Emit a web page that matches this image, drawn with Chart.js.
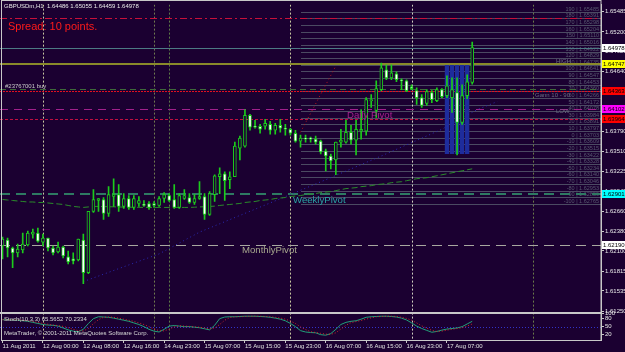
<!DOCTYPE html>
<html><head><meta charset="utf-8">
<script src="https://cdn.jsdelivr.net/npm/chart.js@4.4.0/dist/chart.umd.min.js"></script>
<style>
html,body{margin:0;padding:0;background:#1b0031;overflow:hidden}
canvas{display:block}
</style></head>
<body>
<canvas id="c" width="625" height="352"></canvas>
<script>
// ---------- data ----------
const symbolTitle = 'GBPUSDm,H1';
const timeLabels = ['11 Aug 2011','12 Aug 00:00','12 Aug 08:00','12 Aug 16:00','14 Aug 23:00','15 Aug 07:00','15 Aug 15:00','15 Aug 23:00','16 Aug 07:00','16 Aug 15:00','16 Aug 23:00','17 Aug 07:00'];
const opens = [1.62170,1.62254,1.62142,1.62072,1.62114,1.62184,1.62338,1.62352,1.62226,1.62282,1.62142,1.62086,1.62156,1.62016,1.61988,1.61974,1.62254,1.61792,1.62660,1.62814,1.62828,1.62632,1.62870,1.62898,1.62730,1.62842,1.62716,1.62772,1.62758,1.62772,1.62772,1.62744,1.62842,1.62884,1.62828,1.62716,1.62842,1.62856,1.62786,1.62842,1.62870,1.62618,1.62898,1.63150,1.63192,1.63108,1.63150,1.63556,1.63584,1.64018,1.63864,1.63864,1.63864,1.63892,1.63808,1.63878,1.63836,1.63822,1.63766,1.63654,1.63696,1.63696,1.63682,1.63654,1.63514,1.63444,1.63388,1.63640,1.63640,1.63780,1.63668,1.63794,1.63794,1.64228,1.64088,1.64382,1.64662,1.64550,1.64606,1.64522,1.64508,1.64424,1.64368,1.64270,1.64186,1.64340,1.64228,1.64382,1.64298,1.64270,1.64340,1.63920,1.64298,1.64486];
const highs = [1.62296,1.62282,1.62156,1.62198,1.62352,1.62380,1.62408,1.62422,1.62338,1.62282,1.62170,1.62226,1.62170,1.62100,1.62072,1.62268,1.62338,1.62660,1.62968,1.62842,1.62856,1.63010,1.63122,1.63038,1.62912,1.62884,1.62884,1.62870,1.62814,1.62800,1.62800,1.62870,1.62926,1.62912,1.63038,1.62912,1.62968,1.62912,1.62898,1.63080,1.62912,1.62940,1.63178,1.63276,1.63220,1.63220,1.63640,1.63724,1.64102,1.64032,1.63948,1.63892,1.63962,1.63934,1.63906,1.63962,1.63892,1.63836,1.63808,1.63738,1.63738,1.63710,1.63724,1.63668,1.63542,1.63472,1.63640,1.63822,1.63948,1.63878,1.63948,1.64102,1.64270,1.64312,1.64508,1.64760,1.64732,1.64732,1.64634,1.64536,1.64522,1.64452,1.64410,1.64312,1.64382,1.64368,1.64410,1.64396,1.64578,1.64550,1.64550,1.64452,1.64592,1.65055];
const lows = [1.61988,1.62016,1.61862,1.62016,1.62072,1.62170,1.62282,1.62226,1.62170,1.62100,1.62044,1.62072,1.62002,1.61918,1.61918,1.61960,1.61638,1.61778,1.62646,1.62660,1.62548,1.62590,1.62730,1.62660,1.62702,1.62688,1.62688,1.62730,1.62730,1.62688,1.62716,1.62730,1.62786,1.62800,1.62702,1.62702,1.62828,1.62772,1.62758,1.62828,1.62548,1.62604,1.62800,1.62912,1.62814,1.62982,1.63150,1.63388,1.63570,1.63808,1.63836,1.63766,1.63822,1.63752,1.63752,1.63780,1.63738,1.63738,1.63640,1.63570,1.63640,1.63640,1.63612,1.63472,1.63234,1.63262,1.63178,1.63570,1.63626,1.63612,1.63458,1.63682,1.63738,1.64130,1.63990,1.64368,1.64522,1.64522,1.64494,1.64382,1.64354,1.64382,1.64172,1.64130,1.64158,1.64200,1.64214,1.64270,1.64270,1.64060,1.63458,1.63892,1.64256,1.64459];
const closes = [1.62268,1.62142,1.62072,1.62128,1.62198,1.62352,1.62366,1.62240,1.62282,1.62142,1.62072,1.62156,1.62030,1.61946,1.61960,1.62268,1.61792,1.62660,1.62828,1.62842,1.62632,1.62898,1.62898,1.62730,1.62842,1.62716,1.62842,1.62814,1.62744,1.62716,1.62744,1.62842,1.62898,1.62814,1.62716,1.62884,1.62884,1.62786,1.62842,1.62870,1.62618,1.62912,1.63164,1.63192,1.63094,1.63150,1.63584,1.63696,1.64018,1.63850,1.63850,1.63822,1.63906,1.63808,1.63878,1.63836,1.63822,1.63766,1.63654,1.63696,1.63682,1.63682,1.63640,1.63500,1.63444,1.63374,1.63640,1.63668,1.63780,1.63668,1.63822,1.63822,1.64242,1.64242,1.64396,1.64690,1.64550,1.64620,1.64522,1.64508,1.64368,1.64396,1.64270,1.64158,1.64354,1.64242,1.64382,1.64284,1.64438,1.64382,1.63920,1.64298,1.64494,1.64978];
const maGreen = [1.62828,1.62821,1.62814,1.62807,1.62800,1.62793,1.62793,1.62786,1.62786,1.62779,1.62772,1.62765,1.62758,1.62744,1.62730,1.62723,1.62716,1.62723,1.62730,1.62730,1.62728,1.62726,1.62724,1.62722,1.62720,1.62719,1.62718,1.62717,1.62716,1.62716,1.62716,1.62716,1.62716,1.62716,1.62716,1.62716,1.62716,1.62716,1.62719,1.62723,1.62726,1.62730,1.62734,1.62744,1.62751,1.62758,1.62765,1.62772,1.62786,1.62793,1.62800,1.62814,1.62821,1.62828,1.62842,1.62849,1.62856,1.62870,1.62877,1.62884,1.62898,1.62905,1.62912,1.62926,1.62933,1.62940,1.62954,1.62968,1.62982,1.62989,1.62996,1.63010,1.63017,1.63024,1.63038,1.63045,1.63052,1.63066,1.63073,1.63080,1.63094,1.63108,1.63122,1.63129,1.63136,1.63150,1.63164,1.63178,1.63192,1.63206,1.63220,1.63234,1.63248,1.63262];
const blueLineBars = [16,24,31,39,48,57,64,75,87,94,98];
const blueLinePrices = [1.61666,1.61876,1.62058,1.62366,1.62632,1.62898,1.63108,1.63444,1.63822,1.64102,1.64214];
const redTrendBars = [59,66];
const redTrendPrices = [1.63780,1.64718];
const boxBars = [88,89,90,91,92];
const boxLow = 1.63472, boxHigh = 1.64732;
const stochMain = [76,76,75,74,72,70,66,62,58,56,55,52,45,38,33,31,40,62,80,87,86,85,82,78,74,70,64,58,50,40,33,30,40,52,54,52,50,50,48,46,42,38,55,80,86,87,87,88,89,89,89,88,87,85,82,78,72,62,50,35,30,28,27,20,18,24,40,58,66,70,72,78,85,87,88,89,89,88,86,82,75,64,52,43,36,29,32,37,41,43,45,50,60,70];
const stochSignal = [76,76,76,75,74,72,69,66,62,59,56,54,51,46,40,35,34,43,61,76,85,86,85,82,78,74,70,64,58,50,41,35,34,41,49,53,52,51,49,48,45,42,45,58,74,84,87,87,88,89,89,89,88,87,85,82,78,71,62,49,39,31,28,25,22,21,27,41,55,65,69,73,78,83,87,88,89,89,88,85,81,74,64,53,44,36,32,33,37,40,43,46,52,60];
const priceTicks = [1.65485,1.65200,1.64920,1.64640,1.64355,1.64070,1.63790,1.63510,1.63225,1.62945,1.62660,1.62380,1.62100,1.61815,1.61535,1.61250];
const stochTicks = [100,80,50,20];
const currentPrice = 1.64978, targetLevel = 1.65390, oliveLevel = 1.64747, orderLevel = 1.64363, orderGreen = 1.64385, dailyPivot = 1.64102, lowRedLevel = 1.63964, weeklyPivot = 1.62901, monthlyPivot = 1.62190;
const fiboStartBar = 59;
const fiboNames = ['190','180','170','160','150','140','130','120','110','100','90','80','70','60','50','40','30','20','10','0','-10','-20','-30','-40','-50','-60','-70','-80','-90','-100'];
const fiboLevels = [1.65485,1.65391,1.65298,1.65204,1.65110,1.65016,1.64922,1.64829,1.64735,1.64641,1.64547,1.64453,1.64360,1.64266,1.64172,1.64078,1.63984,1.63891,1.63797,1.63703,1.63609,1.63515,1.63422,1.63328,1.63234,1.63140,1.63046,1.62953,1.62859,1.62765];
const separatorBars = [8,30,33,57,81,105];
const stochText = 'Stoch(10,3,3) 65.5652 70.2334';

// ---------- setup ----------
const SLOTS = 119;
const slotLabels = Array.from({length: SLOTS}, (_, i) => (i % 8 === 0 && timeLabels[i/8]) ? timeLabels[i/8] : '');
const BG = '#1b0031';
const GREEN = '#1ccc1c';
const FONT = 'Liberation Sans';

const blueData = Array(SLOTS).fill(null); blueLineBars.forEach((b,j)=> blueData[b] = blueLinePrices[j]);
const redData = Array(SLOTS).fill(null); redTrendBars.forEach((b,j)=> redData[b] = redTrendPrices[j]);
const boxData = Array(SLOTS).fill(null); boxBars.forEach(b => boxData[b] = [boxLow, boxHigh]);

const mt4 = {
  id: 'mt4',
  beforeDraw(chart){ const c = chart.ctx; c.save(); c.fillStyle = BG; c.fillRect(0,0,chart.width,chart.height); c.restore(); },
  beforeDatasetsDraw(chart){
    const {ctx, chartArea: a, scales: {x, y, ys}} = chart;
    ctx.save();
    ctx.beginPath(); ctx.rect(a.left, a.top, a.right - a.left, a.bottom - a.top); ctx.clip();
    const H = (p, color, dash, w, x0) => {
      const py = Math.round(y.getPixelForValue(p)) + (w % 2 ? 0.5 : 0);
      ctx.strokeStyle = color; ctx.lineWidth = w; ctx.setLineDash(dash);
      ctx.beginPath(); ctx.moveTo(x0 === undefined ? a.left : x0, py); ctx.lineTo(a.right, py); ctx.stroke();
    };
    // gann / fibo grid with labels
    const fx0 = Math.round(x.getPixelForValue(fiboStartBar));
    ctx.font = `5.5px "${FONT}"`; ctx.textAlign = 'right'; ctx.textBaseline = 'bottom';
    fiboLevels.forEach((p, k) => {
      H(p, '#4b4a62', [], 1, fx0);
      ctx.fillStyle = '#585870';
      ctx.fillText(`${fiboNames[k]} | ${p.toFixed(5)}`, a.right - 2, Math.round(y.getPixelForValue(p)));
    });
    // stoch 50 level
    const p50 = Math.round(ys.getPixelForValue(50)) + 0.5;
    ctx.strokeStyle = '#3232c8'; ctx.lineWidth = 1; ctx.setLineDash([1,2]);
    ctx.beginPath(); ctx.moveTo(a.left, p50); ctx.lineTo(a.right, p50); ctx.stroke();
    // vertical separators
    const sepColors = ['#c8c8a0','#707a50','#5e7a46','#c8c8a0','#d0d0c0','#6a7a4a'];
    separatorBars.forEach((b, k) => {
      const px = Math.round(x.getPixelForValue(b)) + 0.5;
      ctx.strokeStyle = sepColors[k]; ctx.lineWidth = 1; ctx.setLineDash([2,2]);
      ctx.beginPath(); ctx.moveTo(px, a.top); ctx.lineTo(px, a.bottom); ctx.stroke();
    });
    // horizontal levels
    H(targetLevel, '#c8103a', [7,3,2,3], 1);
    H(currentPrice, '#4d7a84', [], 1);
    H(oliveLevel, '#8a8a2a', [], 2);
    H(orderGreen, '#3f6a3a', [6,4], 1);
    H(orderLevel, '#e01020', [2,1], 1);
    H(dailyPivot, '#a0208c', [8,6], 1);
    H(lowRedLevel, '#c01040', [3,2], 1);
    H(weeklyPivot, '#2e7a62', [10,6], 2);
    H(monthlyPivot, '#a8a8a0', [10,6], 1);
    ctx.restore();
  },
  afterDraw(chart){
    const {ctx, chartArea: a, scales: {x, y, ys}} = chart;
    ctx.save();
    // frame and sub-window separator
    ctx.strokeStyle = '#c8c8c8'; ctx.lineWidth = 1; ctx.setLineDash([]);
    ctx.strokeRect(1.5, 0.5, a.right - 1.5, a.bottom);
    ctx.fillStyle = '#c8c8c8';
    ctx.fillRect(a.left, Math.round(ys.top) - 1, a.right - a.left, 2);
    // labels in chart
    ctx.textBaseline = 'middle'; ctx.textAlign = 'left';
    const n = closes.length - 1;
    ctx.font = `6px "${FONT}"`; ctx.fillStyle = '#e8e8e8';
    ctx.fillText(`${symbolTitle}  ${opens[n].toFixed(5)} ${highs[n].toFixed(5)} ${lows[n].toFixed(5)} ${closes[n].toFixed(5)}`, 4, 6);
    ctx.font = `11px "${FONT}"`; ctx.fillStyle = '#ff1a1a';
    ctx.fillText('Spread: 10 points.', 8, 27);
    ctx.font = `6px "${FONT}"`; ctx.fillStyle = '#c8c8c8';
    ctx.fillText('#23767001 buy', 5, y.getPixelForValue(orderLevel) - 5);
    ctx.font = `9.6px "${FONT}"`;
    ctx.fillStyle = '#a8208e'; ctx.fillText('Daily Pivot', 347, y.getPixelForValue(dailyPivot) + 6);
    ctx.fillStyle = '#2aa4a4'; ctx.fillText('WeeklyPivot', 293, y.getPixelForValue(weeklyPivot) + 6);
    ctx.fillStyle = '#a8a88e'; ctx.fillText('MonthlyPivot', 242, y.getPixelForValue(monthlyPivot) + 6);
    ctx.font = `6px "${FONT}"`; ctx.fillStyle = '#6a6a80';
    ctx.fillText('HIGH', 556, y.getPixelForValue(highs[75]) - 2);
    ctx.fillText('Gann 10 - 90', 535, y.getPixelForValue(orderLevel) + 4);
    ctx.fillText('LOW', 556, y.getPixelForValue(lowRedLevel) - 8);
    // stoch texts
    ctx.fillStyle = '#d8d8d8';
    ctx.fillText(stochText, 4, ys.getPixelForValue(78));
    ctx.fillText('MetaTrader, \u00a9 2001-2011 MetaQuotes Software Corp.', 4, ys.getPixelForValue(24));
    // right axis price boxes
    const boxes = [[currentPrice,'#ffffff'],[oliveLevel,'#ffff00'],[orderLevel,'#ff0000'],[dailyPivot,'#ff00ff'],[lowRedLevel,'#ff0000'],[weeklyPivot,'#00ffff'],[monthlyPivot,'#ffffff']];
    boxes.forEach(([p, col]) => {
      const py = Math.round(y.getPixelForValue(p));
      ctx.fillStyle = col; ctx.fillRect(a.right + 1, py - 4, 24, 8);
      ctx.fillStyle = '#000000'; ctx.fillText(p.toFixed(5), a.right + 2, py);
    });
    ctx.restore();
  }
};

new Chart(document.getElementById('c'), {
  type: 'bar',
  data: {
    labels: slotLabels,
    datasets: [
      { type:'bar', label:'body', data: opens.map((o,i)=>[o, closes[i]]), yAxisID:'y', grouped:false, barThickness:3,
        backgroundColor: opens.map((o,i)=> closes[i] >= o ? BG : '#ffffff'), borderColor: GREEN, borderWidth:1, borderSkipped:false, order:0 },
      { type:'bar', label:'wick', data: lows.map((l,i)=>[l, highs[i]]), yAxisID:'y', grouped:false, barThickness:1,
        backgroundColor: GREEN, order:1 },
      { type:'line', label:'ma', data: maGreen, yAxisID:'y', borderColor:'#2a8c2a', borderWidth:1, borderDash:[6,3], pointRadius:0, order:3 },
      { type:'line', label:'trendBlue', data: blueData, yAxisID:'y', spanGaps:true, borderColor:'#2a2ab4', borderWidth:1, borderDash:[1,3], pointRadius:0, order:3 },
      { type:'line', label:'trendRed', data: redData, yAxisID:'y', spanGaps:true, borderColor:'#c01818', borderWidth:1, borderDash:[1,3], pointRadius:0, order:3 },
      { type:'bar', label:'box', data: boxData, yAxisID:'y', grouped:false, barPercentage:0.85, categoryPercentage:1,
        backgroundColor:'#1e2c9c', order:8 },
      { type:'line', label:'stoch', data: stochMain, yAxisID:'ys', borderColor:'#22a07a', borderWidth:1, pointRadius:0, order:2 },
      { type:'line', label:'signal', data: stochSignal, yAxisID:'ys', borderColor:'#d02828', borderWidth:1, borderDash:[1,2], pointRadius:0, order:1 }
    ]
  },
  options: {
    responsive:false, animation:false, events:[], devicePixelRatio:1,
    layout:{ padding:{ top:1, left:0, right:0, bottom:0 } },
    plugins:{ legend:{display:false}, tooltip:{enabled:false} },
    scales:{
      x:{ type:'category', offset:true,
        grid:{ display:true, drawOnChartArea:false, drawTicks:true, tickLength:3, offset:false,
               color:(c)=> slotLabels[c.index] ? '#c8c8c8' : 'rgba(0,0,0,0)' },
        border:{ display:false },
        ticks:{ autoSkip:false, maxRotation:0, align:'start', padding:0, color:'#e0e0e0', font:{ family:FONT, size:6 },
                callback:(v,i)=> slotLabels[i] },
        afterFit:(s)=>{ s.height = 12; } },
      y:{ type:'linear', position:'right', stack:'v', stackWeight:312, min:1.61218, max:1.65586,
        afterBuildTicks:(s)=>{ s.ticks = priceTicks.map(v=>({value:v})); },
        grid:{ drawOnChartArea:false, drawTicks:true, tickLength:3, color:'#c8c8c8' },
        border:{ display:true, color:'#c8c8c8' },
        ticks:{ autoSkip:false, padding:1, color:'#e8e8e8', font:{ family:FONT, size:6 }, callback:(v)=> v.toFixed(5) },
        afterFit:(s)=>{ s.width = 24; } },
      ys:{ type:'linear', position:'right', stack:'v', stackWeight:27, min:0, max:100,
        afterBuildTicks:(s)=>{ s.ticks = stochTicks.map(v=>({value:v})); },
        grid:{ drawOnChartArea:false, drawTicks:true, tickLength:3, color:'#c8c8c8' },
        border:{ display:true, color:'#c8c8c8' },
        ticks:{ autoSkip:false, padding:1, color:'#e8e8e8', font:{ family:FONT, size:6 }, callback:(v)=> String(v) },
        afterFit:(s)=>{ s.width = 24; } }
    }
  },
  plugins:[mt4]
});
</script>
</body></html>
